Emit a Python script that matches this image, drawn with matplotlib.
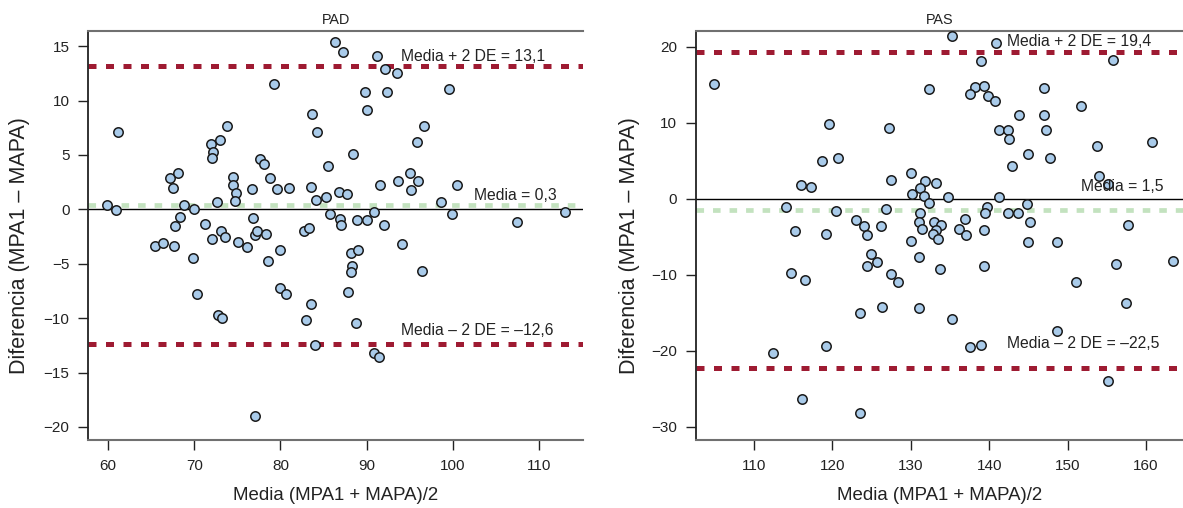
import matplotlib
matplotlib.use("Agg")
import matplotlib.pyplot as plt
import numpy as np

plt.rcParams['font.family'] = ['Liberation Sans', 'DejaVu Sans']

# PAD (left panel)
pad_x = [59.9, 60.9, 61.1, 67.2, 67.5, 68.1, 68.8, 70.0, 71.9, 72.2, 72.1, 72.6, 73.0, 73.8,
         74.5, 74.5, 74.9, 74.7, 76.7, 77.6, 78.1, 79.2, 78.8, 79.6, 81.0, 83.7, 84.2, 83.5,
         84.1, 85.3, 85.5, 76.8, 86.3, 87.2, 91.2, 92.1, 93.5, 89.8, 92.4, 90.0, 99.6, 96.6,
         95.8, 88.4, 95.0, 93.6, 96.0, 95.1, 91.5, 100.5, 86.8, 87.7, 98.6, 85.8, 86.9, 87.0,
         88.9, 90.0, 90.9, 92.0, 99.9, 107.5, 113.0, 65.5, 66.4, 67.6, 67.8, 68.4, 69.9, 70.3,
         71.2, 72.0, 73.1, 73.6, 72.8, 73.2, 75.1, 76.1, 77.1, 77.3, 78.3, 78.5, 77.1, 80.0,
         79.9, 80.7, 82.7, 83.3, 83.6, 83.0, 84.0, 94.1, 88.2, 89.0, 88.3, 88.2, 96.4, 87.8,
         88.8, 90.9, 91.4]
pad_y = [0.4, -0.1, 7.1, 2.9, 2.0, 3.3, 0.4, 0.0, 6.0, 5.3, 4.7, 0.7, 6.4, 7.7,
         3.0, 2.2, 1.5, 0.8, 1.9, 4.6, 4.2, 11.5, 2.9, 1.9, 2.0, 8.8, 7.1, 2.1,
         0.9, 1.1, 4.0, -0.8, 15.4, 14.5, 14.1, 12.9, 12.5, 10.8, 10.8, 9.1, 11.1, 7.7,
         6.2, 5.1, 3.3, 2.6, 2.6, 1.8, 2.2, 2.2, 1.6, 1.4, 0.7, -0.4, -0.9, -1.4,
         -1.0, -1.0, -0.2, -1.4, -0.4, -1.2, -0.2, -3.4, -3.1, -3.4, -1.5, -0.7, -4.5, -7.8,
         -1.3, -2.7, -2.0, -2.5, -9.7, -10.0, -3.0, -3.5, -2.4, -2.0, -2.3, -4.7, -19.0, -3.7,
         -7.2, -7.8, -2.0, -1.7, -8.7, -10.2, -12.5, -3.2, -4.0, -3.7, -5.2, -5.8, -5.7, -7.6,
         -10.4, -13.2, -13.6]
pad_lines = [13.15, 0.4, -12.4]
pad_labels = ["Media + 2 DE = 13,1", "Media = 0,3", "Media \u2013 2 DE = \u201312,6"]

# PAS (right panel)
pas_x = [105.0, 119.6, 127.2, 118.7, 120.7, 116.0, 117.3, 127.5, 130.0, 131.8, 131.2, 130.2,
         131.7, 132.4, 114.1, 120.5, 126.8, 131.2, 123.1, 132.3, 124.0, 124.5, 126.2, 131.1,
         131.5, 115.3, 119.2, 130.0, 131.1, 125.0, 125.7, 124.4, 127.5, 128.4, 114.8, 116.6,
         126.4, 123.6, 131.1, 119.2, 112.4, 116.2, 123.5, 135.3, 140.9, 155.8, 138.9, 138.2,
         139.3, 137.6, 139.8, 140.8, 147.0, 151.7, 143.8, 147.0, 141.2, 142.4, 147.2, 142.5,
         153.7, 160.7, 144.9, 147.7, 142.9, 154.0, 155.2, 133.2, 134.8, 141.3, 139.7, 139.5,
         142.4, 143.7, 144.8, 133.0, 133.9, 133.2, 132.8, 133.5, 136.2, 136.9, 137.0, 139.3,
         145.2, 144.9, 148.7, 157.7, 133.8, 139.3, 151.1, 156.2, 163.4, 157.4, 135.3, 148.7,
         137.5, 139.0, 155.1]
pas_y = [15.1, 9.8, 9.3, 5.0, 5.4, 1.8, 1.5, 2.5, 3.4, 2.3, 1.4, 0.7,
         0.4, 14.4, -1.1, -1.6, -1.4, -1.8, -2.8, -0.5, -3.6, -4.7, -3.6, -3.0,
         -4.0, -4.3, -4.6, -5.6, -7.7, -7.3, -8.3, -8.9, -9.9, -10.9, -9.8, -10.7,
         -14.2, -15.0, -14.4, -19.4, -20.3, -26.3, -28.2, 21.5, 20.5, 18.3, 18.1, 14.7,
         14.9, 13.8, 13.6, 12.9, 14.6, 12.2, 11.0, 11.0, 9.0, 9.0, 9.0, 7.9,
         6.9, 7.5, 5.9, 5.4, 4.3, 3.0, 1.9, 2.1, 0.2, 0.2, -1.1, -1.8,
         -1.9, -1.8, -0.7, -3.0, -3.5, -4.1, -4.6, -5.3, -4.0, -2.6, -4.7, -4.1,
         -3.1, -5.7, -5.7, -3.4, -9.2, -8.8, -10.9, -8.6, -8.2, -13.7, -15.8, -17.4,
         -19.5, -19.3, -24.0]
pas_lines = [19.35, -1.5, -22.3]
pas_labels = ["Media + 2 DE = 19,4", "Media = 1,5", "Media \u2013 2 DE = \u201322,5"]

red = "#9e1b32"
green = "#c3e2bf"
blue = "#a9cbea"

fig = plt.figure(figsize=(11.83, 5.08), dpi=100)
ax1 = fig.add_axes([0.0746, 0.1339, 0.4182, 0.8051])
ax2 = fig.add_axes([0.588, 0.1339, 0.412, 0.8051])


def panel(ax, x, y, lines, labels, xlim, ylim, xticks, yticks, title, lab_pos):
    ax.axhline(0, color="black", lw=1.0, zorder=1)
    ax.axhline(lines[0], color=red, lw=3.6, ls=(0, (1.6, 1.9)), zorder=2)
    ax.axhline(lines[2], color=red, lw=3.6, ls=(0, (1.6, 1.9)), zorder=2)
    ax.axhline(lines[1], color=green, lw=3.4, ls=(0, (1.6, 1.9)), zorder=2)
    ax.scatter(x, y, s=46, c=blue, edgecolors="#1a1a1a", linewidths=1.1, zorder=3)
    for (tx, ty), lab in zip(lab_pos, labels):
        ax.text(tx, ty, lab, fontsize=11.3, color="#222222", ha="left", va="center", zorder=4)
    ax.set_xlim(*xlim)
    ax.set_ylim(*ylim)
    ax.set_xticks(xticks)
    ax.set_yticks(yticks)
    ax.tick_params(direction="out", length=7.5, width=1.0, labelsize=11,
                   colors="#222222", pad=6)
    ax.spines["right"].set_visible(False)
    ax.spines["top"].set_color("#707070")
    ax.spines["top"].set_linewidth(1.5)
    ax.spines["bottom"].set_color("#707070")
    ax.spines["bottom"].set_linewidth(1.5)
    ax.spines["left"].set_color("#222222")
    ax.spines["left"].set_linewidth(1.3)
    ax.set_xlabel("Media (MPA1 + MAPA)/2", fontsize=13.4, color="#222222", labelpad=10)
    ax.set_ylabel("Diferencia (MPA1 \u2013 MAPA)", fontsize=15.5, color="#222222")
    ax.set_title(title, fontsize=10.4, color="#222222", pad=5)


panel(ax1, pad_x, pad_y, pad_lines, pad_labels, (57.7, 115.1), (-21.2, 16.4),
      [60, 70, 80, 90, 100, 110], [-20, -15, -10, -5, 0, 5, 10, 15], "PAD",
      [(94.0, 14.1), (102.5, 1.3), (94.0, -11.1)])
ax1.yaxis.set_label_coords(-0.118, 0.475)

panel(ax2, pas_x, pas_y, pas_lines, pas_labels, (102.6, 164.7), (-31.75, 22.1),
      [110, 120, 130, 140, 150, 160], [-30, -20, -10, 0, 10, 20], "PAS",
      [(142.3, 20.66), (151.7, 1.58), (142.3, -19.1)])
ax2.yaxis.set_label_coords(-0.114, 0.475)

fig.savefig("out.png", dpi=100)
